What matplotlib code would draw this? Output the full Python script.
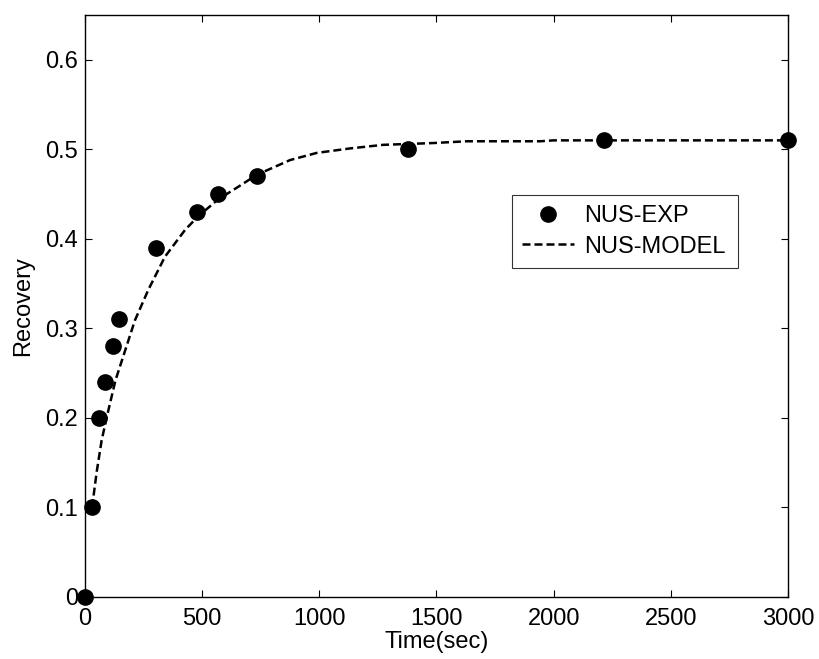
import numpy as np
import matplotlib
matplotlib.use('Agg')
import matplotlib.pyplot as plt

plt.rcParams['font.family'] = ['Liberation Sans', 'DejaVu Sans']

# experimental points
exp_time = [0, 28, 60, 85, 121, 147, 302, 477, 566, 733, 1379, 2215, 3000]
exp_rec = [0.0, 0.10, 0.20, 0.24, 0.28, 0.31, 0.39, 0.43, 0.45, 0.47, 0.50, 0.51, 0.51]

# model curve
mod_time = [30, 50, 71, 92, 130, 213, 270, 341, 427, 482, 568, 653, 733, 875,
            989, 1131, 1272, 1485, 1629, 1942, 2000, 3000]
mod_rec = [0.10, 0.14, 0.175, 0.20, 0.242, 0.309, 0.343, 0.380, 0.410, 0.425,
           0.444, 0.458, 0.4715, 0.488, 0.496, 0.501, 0.505, 0.507, 0.509,
           0.509, 0.51, 0.51]

fs = 17

fig = plt.figure(figsize=(8.19, 6.59), dpi=100)
ax = fig.add_axes([0.1038, 0.0941, 0.8583, 0.8831])

ax.plot(exp_time, exp_rec, 'o', color='k', ms=11, label='NUS-EXP', zorder=3, clip_on=False)
ax.plot(mod_time, mod_rec, color='k', lw=1.8, linestyle=(0, (3.2, 1.6)), label='NUS-MODEL')

ax.set_xlim(0, 3000)
ax.set_ylim(0, 0.65)
ax.set_xticks(np.arange(0, 3001, 500))
ax.set_yticks(np.arange(0, 0.61, 0.1))
ax.set_yticklabels(['0', '0.1', '0.2', '0.3', '0.4', '0.5', '0.6'])
ax.tick_params(direction='in', length=5, width=0.8, top=True, right=True,
               labelsize=fs)
ax.tick_params(axis='y', pad=5)
ax.tick_params(axis='x', pad=8)
for s in ax.spines.values():
    s.set_linewidth(1.0)

ax.set_xlabel('Time(sec)', fontsize=fs, labelpad=1)
ax.set_ylabel('Recovery', fontsize=fs, labelpad=8)

leg = ax.legend(loc='upper left', bbox_to_anchor=(0.607, 0.0, 0.322, 0.691),
                mode='expand', fontsize=fs, frameon=True, fancybox=False,
                edgecolor='k', handlelength=2.2, borderpad=0.45,
                labelspacing=0.35, handletextpad=0.4, borderaxespad=0)
leg.get_frame().set_linewidth(0.8)

fig.savefig('out.png', dpi=100)
